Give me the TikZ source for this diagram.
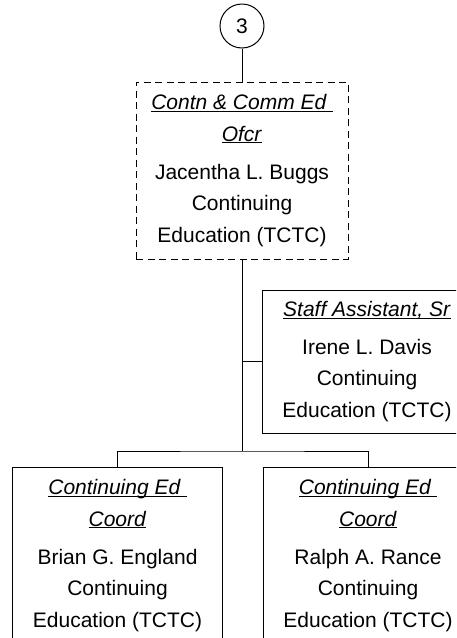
\documentclass[tikz,border=0pt]{standalone}
\usepackage{fontspec}
\setmainfont{Liberation Sans}
\newcommand{\jobttl}[1]{\underline{\smash{\textit{#1}}}\vphantom{(}}

\begin{document}
\begin{tikzpicture}[x=1pt,y=-1pt,
  box/.style={draw, line width=1pt, minimum width=210pt, align=center, inner sep=0pt,
    font=\fontsize{21}{31.5}\selectfont},
  link/.style={line width=1pt}]
\useasboundingbox (0,0) rectangle (456,638);
\clip (0,0) rectangle (456,638);

% top one
\node[draw, circle, line width=1pt, minimum size=44pt, inner sep=0pt,
  font=\fontsize{21}{25}\selectfont] (page3) at (242,26) {3};
\node[box, dash pattern=on 7pt off 4.5pt, minimum width=212pt, minimum height=177pt] (ofcr) at (242,170.5)
  {\jobttl{Contn \& Comm Ed\ }\\ \jobttl{Ofcr}\\[6.5pt] Jacentha L. Buggs\\ Continuing\\ Education (TCTC)};
\draw[link] (page3.south) -- (ofcr.north);

% staff one
\node[box, minimum height=143pt] (staff) at (367,361.5)
  {\jobttl{Staff Assistant, Sr}\\[6.5pt] Irene L. Davis\\ Continuing\\ Education (TCTC)};

% bottom ones
\node[box, minimum height=177pt] (coordL) at (117.5,555.5)
  {\jobttl{Continuing Ed\ }\\ \jobttl{Coord}\\[6.5pt] Brian G. England\\ Continuing\\ Education (TCTC)};
\node[box, minimum height=177pt] (coordR) at (368,555.5)
  {\jobttl{Continuing Ed\ }\\ \jobttl{Coord}\\[6.5pt] Ralph A. Rance\\ Continuing\\ Education (TCTC)};

\coordinate (bus) at (242,451);
\draw[link] (ofcr.south) -- (bus);
\draw[link] (staff.west) -- (staff.west -| ofcr.south);
\draw[link] (coordL.north) |- (bus) -| (coordR.north);

\end{tikzpicture}
\end{document}
